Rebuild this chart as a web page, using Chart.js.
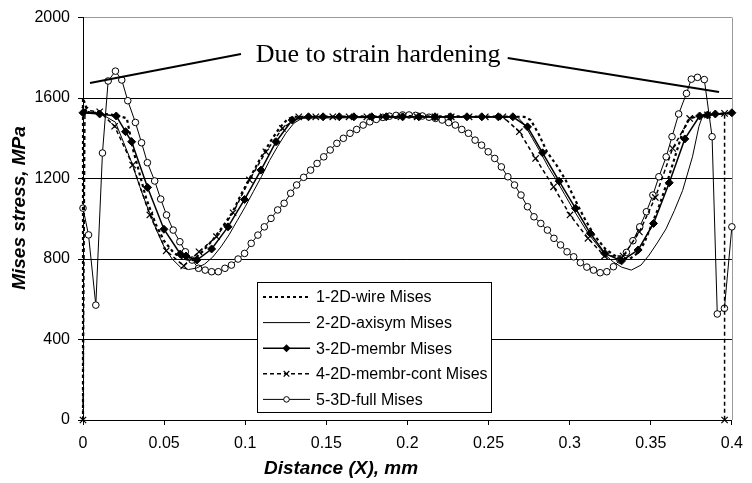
<!DOCTYPE html>
<html>
<head>
<meta charset="utf-8">
<script src="https://cdn.jsdelivr.net/npm/chart.js@4.4.0/dist/chart.umd.min.js"></script>
<style>
  body { margin: 0; background: #fff; }
  #stressChart { display: block; }
</style>
</head>
<body>
<canvas id="stressChart" width="752" height="483"></canvas>
<script>
// Labels and ticks
const seriesNames = ['1-2D-wire Mises', '2-2D-axisym Mises', '3-2D-membr Mises', '4-2D-membr-cont Mises', '5-3D-full Mises'];
const yTickLabels = ['0', '400', '800', '1200', '1600', '2000'];
const xTickLabels = ['0', '0.05', '0.1', '0.15', '0.2', '0.25', '0.3', '0.35', '0.4'];
const noteText = 'Due to strain hardening';

// [distance mm, Mises MPa]
const wirePoints = [
  [0, 0], [0, 1600], [0.003, 1530], [0.01, 1525], [0.02, 1515], [0.027, 1500], [0.031, 1340], [0.035, 1220],
  [0.039, 1100], [0.045, 970], [0.05, 890], [0.056, 830], [0.062, 800], [0.068, 795], [0.074, 840], [0.08, 895],
  [0.086, 960], [0.092, 1030], [0.098, 1130], [0.104, 1220], [0.11, 1310], [0.116, 1390], [0.121, 1450], [0.126, 1495],
  [0.13, 1507], [0.2, 1510], [0.272, 1507], [0.276, 1491], [0.281, 1420], [0.286, 1333], [0.292, 1265], [0.2975, 1193],
  [0.303, 1100], [0.3086, 1010], [0.315, 920], [0.322, 850], [0.33, 805], [0.337, 800], [0.342, 830], [0.346, 880],
  [0.35, 960], [0.355, 1060], [0.36, 1180], [0.365, 1310], [0.37, 1440], [0.374, 1500], [0.38, 1515], [0.39, 1520],
  [0.4, 1525], [0.4005, 1600], [0.4005, 0]
];

const axisymPoints = [
  [0, 1530], [0.01, 1527], [0.02, 1480], [0.025, 1380], [0.03, 1280], [0.035, 1160], [0.04, 1050], [0.045, 950],
  [0.05, 860], [0.055, 800], [0.06, 760], [0.065, 748], [0.07, 755], [0.075, 775], [0.08, 810], [0.085, 860],
  [0.09, 920], [0.095, 990], [0.1, 1060], [0.105, 1135], [0.11, 1210], [0.115, 1290], [0.12, 1360], [0.125, 1425],
  [0.13, 1475], [0.135, 1500], [0.2, 1505], [0.268, 1505], [0.272, 1470], [0.277, 1400], [0.282, 1330], [0.287, 1255],
  [0.292, 1190], [0.297, 1120], [0.302, 1050], [0.307, 985], [0.312, 920], [0.317, 870], [0.322, 820], [0.327, 785],
  [0.332, 760], [0.338, 745], [0.344, 770], [0.349, 820], [0.354, 880], [0.3594, 950], [0.3645, 1040], [0.3696, 1140],
  [0.3757, 1308], [0.3797, 1460], [0.3817, 1505], [0.386, 1515], [0.4, 1525]
];

const membrPoints = [
  [0, 1527], [0.0103, 1521], [0.0205, 1511], [0.0262, 1433], [0.03, 1383], [0.0398, 1156], [0.0499, 948], [0.06, 825],
  [0.0635, 815], [0.0702, 795], [0.0793, 850], [0.0894, 960], [0.0996, 1096], [0.1097, 1242], [0.119, 1383], [0.129, 1491],
  [0.139, 1507], [0.148, 1507], [0.158, 1507], [0.167, 1507], [0.178, 1507], [0.187, 1507], [0.197, 1507], [0.207, 1507],
  [0.217, 1507], [0.2265, 1507], [0.2367, 1507], [0.2458, 1507], [0.256, 1507], [0.265, 1507], [0.274, 1457], [0.2833, 1328],
  [0.2935, 1187], [0.3036, 1052], [0.3127, 928], [0.3217, 828], [0.332, 791], [0.3422, 845], [0.3517, 977], [0.3614, 1179],
  [0.371, 1397], [0.3801, 1511], [0.385, 1516], [0.3898, 1521], [0.4, 1527]
];

const membrContPoints = [
  [0, 0], [0.0012, 1540], [0.0103, 1532], [0.0195, 1460], [0.0306, 1267], [0.0412, 1019], [0.0513, 841], [0.0621, 766],
  [0.0715, 836], [0.0823, 911], [0.0925, 1030], [0.1026, 1193], [0.1127, 1333], [0.1229, 1449], [0.133, 1507], [0.1435, 1507],
  [0.154, 1507], [0.164, 1507], [0.175, 1507], [0.185, 1507], [0.196, 1507], [0.206, 1507], [0.217, 1507], [0.227, 1507],
  [0.238, 1507], [0.248, 1507], [0.2588, 1507], [0.269, 1433], [0.279, 1300], [0.2901, 1159], [0.3002, 1019], [0.3113, 903],
  [0.3215, 815], [0.333, 815], [0.343, 935], [0.3528, 1106], [0.3635, 1350], [0.374, 1499], [0.385, 1516], [0.3955, 1524],
  [0.3955, 0]
];

const fullPoints = [
  [0, 1053], [0.0034, 920], [0.0079, 571], [0.012, 1327], [0.0155, 1685], [0.02, 1734], [0.0239, 1690], [0.0276, 1587],
  [0.0323, 1479], [0.0361, 1378], [0.0397, 1279], [0.0442, 1188], [0.0479, 1098], [0.0515, 1019], [0.0556, 944], [0.0597, 886],
  [0.0631, 836], [0.0672, 795], [0.0712, 754], [0.0753, 745], [0.0793, 737], [0.0834, 737], [0.0875, 754], [0.0915, 770],
  [0.0956, 800], [0.0996, 828], [0.1037, 878], [0.1078, 919], [0.1118, 960], [0.1159, 1002], [0.12, 1044], [0.124, 1077],
  [0.128, 1127], [0.1317, 1168], [0.136, 1206], [0.1403, 1242], [0.1443, 1275], [0.1484, 1308], [0.1524, 1342], [0.1565, 1375],
  [0.1605, 1400], [0.1646, 1425], [0.1687, 1444], [0.1727, 1466], [0.1768, 1482], [0.1808, 1494], [0.1848, 1504], [0.1889, 1510],
  [0.193, 1514], [0.197, 1516], [0.201, 1516], [0.205, 1514], [0.2092, 1511], [0.2133, 1505], [0.2173, 1499], [0.2214, 1491],
  [0.2254, 1478], [0.2295, 1466], [0.2335, 1444], [0.2376, 1425], [0.2417, 1391], [0.2457, 1366], [0.2498, 1333], [0.2538, 1300],
  [0.2579, 1258], [0.2619, 1209], [0.266, 1168], [0.27, 1118], [0.274, 1060], [0.278, 1010], [0.2822, 977], [0.2863, 944],
  [0.2903, 903], [0.2944, 870], [0.2984, 836], [0.3025, 811], [0.3066, 782], [0.3106, 760], [0.3147, 745], [0.3188, 732],
  [0.3229, 737], [0.327, 762], [0.331, 795], [0.335, 833], [0.339, 891], [0.3432, 960], [0.3473, 1035], [0.3513, 1118],
  [0.355, 1209], [0.3595, 1308], [0.3631, 1408], [0.3672, 1521], [0.372, 1623], [0.375, 1694], [0.3788, 1703], [0.383, 1692],
  [0.3878, 1408], [0.391, 527], [0.3954, 555], [0.4, 960]
];

function toXY(points) {
    return points.map(p => ({ x: p[0], y: p[1] }));
}

Chart.defaults.font.family = "'Liberation Sans', Arial, sans-serif";
Chart.defaults.font.size = 16;
Chart.defaults.color = '#000';

// simple marker drawing for the custom legend
function drawMarker(ctx, style, x, y, r) {
    ctx.save();
    ctx.setLineDash([]);
    ctx.strokeStyle = '#000';
    ctx.beginPath();
    if (style === 'rectRot') {
        ctx.moveTo(x, y - r); ctx.lineTo(x + r, y); ctx.lineTo(x, y + r); ctx.lineTo(x - r, y);
        ctx.closePath();
        ctx.fillStyle = '#000';
        ctx.fill();
    } else if (style === 'crossRot') {
        const d = r * Math.SQRT1_2;
        ctx.moveTo(x - d, y - d); ctx.lineTo(x + d, y + d);
        ctx.moveTo(x + d, y - d); ctx.lineTo(x - d, y + d);
        ctx.lineWidth = 1.2;
        ctx.stroke();
    } else if (style === 'circle') {
        ctx.arc(x, y, r, 0, Math.PI * 2);
        ctx.fillStyle = '#fff';
        ctx.fill();
        ctx.lineWidth = 1;
        ctx.stroke();
    }
    ctx.restore();
}

const extrasPlugin = {
    id: 'extras',
    beforeDatasetsDraw(chart) {
        const { ctx, chartArea } = chart;
        // grey right frame line
        ctx.save();
        ctx.strokeStyle = '#999';
        ctx.lineWidth = 1;
        const xr = Math.round(chartArea.right) + 0.5;
        ctx.beginPath();
        ctx.moveTo(xr, chartArea.top);
        ctx.lineTo(xr, chartArea.bottom);
        ctx.stroke();
        ctx.restore();
    },
    afterDraw(chart) {
        const { ctx, scales } = chart;
        const xs = scales.x, ys = scales.y;
        ctx.save();

        // annotation lines (in data units)
        ctx.strokeStyle = '#000';
        ctx.lineWidth = 2;
        ctx.setLineDash([]);
        [[0.0043, 1675, 0.0974, 1819], [0.2618, 1799, 0.3921, 1630]].forEach(l => {
            ctx.beginPath();
            ctx.moveTo(xs.getPixelForValue(l[0]), ys.getPixelForValue(l[1]));
            ctx.lineTo(xs.getPixelForValue(l[2]), ys.getPixelForValue(l[3]));
            ctx.stroke();
        });
        ctx.fillStyle = '#000';
        ctx.font = "26px 'Liberation Serif', 'Times New Roman', serif";
        ctx.textAlign = 'center';
        ctx.textBaseline = 'alphabetic';
        ctx.fillText(noteText, xs.getPixelForValue(0.1819), ys.getPixelForValue(1779));

        // axis titles
        ctx.font = "italic bold 19px 'Liberation Sans', Arial, sans-serif";
        ctx.textBaseline = 'middle';
        ctx.fillText('Distance (X), mm', 341, 469);
        ctx.save();
        ctx.translate(20, 208);
        ctx.rotate(-Math.PI / 2);
        ctx.fillText('Mises stress, MPa', 0, 0);
        ctx.restore();

        // legend box
        const bx = 257.5, by = 282.5, bw = 234, bh = 130;
        ctx.fillStyle = '#fff';
        ctx.fillRect(bx, by, bw, bh);
        ctx.strokeStyle = '#000';
        ctx.lineWidth = 1;
        ctx.strokeRect(bx, by, bw, bh);

        ctx.font = "16px 'Liberation Sans', Arial, sans-serif";
        ctx.textAlign = 'left';
        ctx.textBaseline = 'middle';
        chart.data.datasets.forEach((ds, i) => {
            const y = 297 + i * 25.6;
            ctx.save();
            ctx.strokeStyle = '#000';
            ctx.lineWidth = ds.borderWidth;
            ctx.setLineDash(ds.borderDash || []);
            ctx.beginPath();
            ctx.moveTo(263, y);
            ctx.lineTo(310, y);
            ctx.stroke();
            ctx.restore();
            if (ds.pointRadius > 0) {
                drawMarker(ctx, ds.pointStyle, 286.5, y, ds.pointStyle === 'circle' ? 2.8 : 4);
            }
            ctx.fillStyle = '#000';
            ctx.fillText(ds.label, 316, y + 1);
        });
        ctx.restore();
    }
};

const ctx = document.getElementById('stressChart').getContext('2d');
const stressChart = new Chart(ctx, {
    type: 'scatter',
    data: {
        datasets: [
            {
                label: seriesNames[0],
                data: toXY(wirePoints),
                showLine: true,
                borderColor: '#000',
                borderWidth: 2.2,
                borderDash: [3, 3],
                pointRadius: 0,
                clip: false
            },
            {
                label: seriesNames[1],
                data: toXY(axisymPoints),
                showLine: true,
                borderColor: '#000',
                borderWidth: 1,
                pointRadius: 0,
                clip: false
            },
            {
                label: seriesNames[2],
                data: toXY(membrPoints),
                showLine: true,
                borderColor: '#000',
                borderWidth: 1.5,
                pointStyle: 'rectRot',
                pointRadius: 4,
                pointBackgroundColor: '#000',
                pointBorderColor: '#000',
                pointBorderWidth: 1,
                clip: false
            },
            {
                label: seriesNames[3],
                data: toXY(membrContPoints),
                showLine: true,
                borderColor: '#000',
                borderWidth: 1.5,
                borderDash: [4, 3],
                pointStyle: 'crossRot',
                pointRadius: 4.5,
                pointBorderColor: '#000',
                pointBorderWidth: 1.2,
                clip: false
            },
            {
                label: seriesNames[4],
                data: toXY(fullPoints),
                showLine: true,
                borderColor: '#000',
                borderWidth: 1,
                pointStyle: 'circle',
                pointRadius: 3.3,
                pointBackgroundColor: '#fff',
                pointBorderColor: '#000',
                pointBorderWidth: 1,
                clip: false
            }
        ]
    },
    options: {
        responsive: false,
        animation: false,
        layout: { padding: { top: 17, right: 12, left: 0, bottom: 0 } },
        plugins: {
            legend: { display: false },
            tooltip: { enabled: false }
        },
        scales: {
            x: {
                type: 'linear',
                min: 0,
                max: 0.4,
                afterFit: (scale) => { scale.height = 63; },
                ticks: {
                    stepSize: 0.05,
                    padding: 9,
                    maxRotation: 0,
                    color: '#000',
                    callback: (v) => xTickLabels[Math.round(v / 0.05)]
                },
                grid: {
                    drawOnChartArea: false,
                    tickLength: 5,
                    tickColor: '#000'
                },
                border: { color: '#000', width: 1 }
            },
            y: {
                min: 0,
                max: 2000,
                afterFit: (scale) => { scale.width = 83; },
                ticks: {
                    stepSize: 400,
                    padding: 8,
                    color: '#000',
                    callback: (v) => yTickLabels[Math.round(v / 400)]
                },
                grid: {
                    color: (c) => (c.tick && c.tick.value === 2000 ? '#999' : '#000'),
                    lineWidth: 1,
                    tickLength: 5,
                    tickColor: '#000'
                },
                border: { color: '#000', width: 1 }
            }
        }
    },
    plugins: [extrasPlugin]
});
</script>
</body>
</html>
